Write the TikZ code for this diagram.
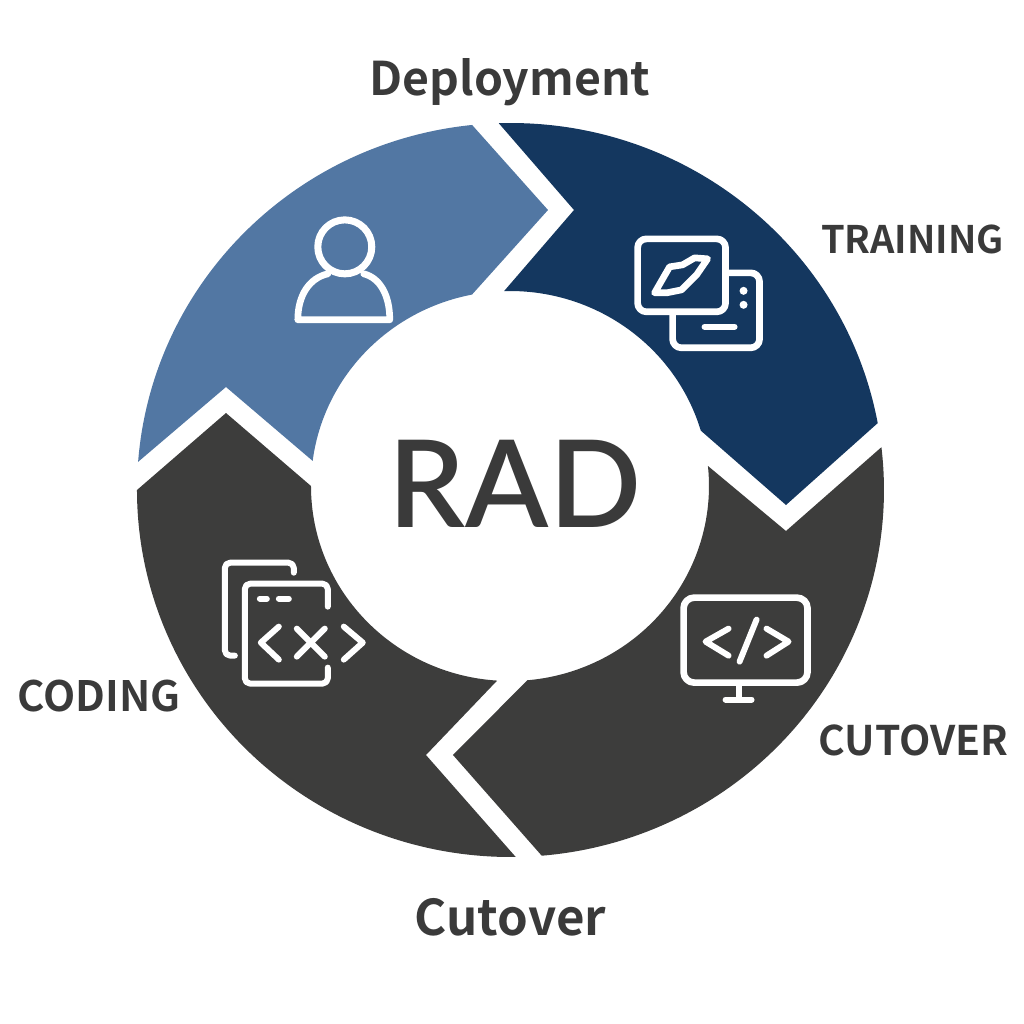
\documentclass[tikz,border=0pt]{standalone}
\usepackage{fontspec}
\setmainfont{Noto Sans}
\newfontfamily\labelfont{Noto Sans CJK SC Bold}
\newfontfamily\bigfont{Lato Semibold}
\usetikzlibrary{calc}
\definecolor{steelblue}{HTML}{5277A3}
\definecolor{navyblue}{HTML}{14375F}
\definecolor{coal}{HTML}{3D3D3C}
\definecolor{inktext}{HTML}{3A3A3A}

\begin{document}
\begin{tikzpicture}

            % Стили для подписей и значков
            \tikzstyle{caption} = [text=inktext, anchor=base, inner sep=0pt, font=\labelfont]
            \tikzstyle{glyph} = [draw=white, line width=1.7pt, line cap=round, line join=round]

            \useasboundingbox (-5.105,-5.34) rectangle (5.135,4.90);

            % Центр внутреннего отверстия
            \coordinate (hole) at (-0.005,0.04);

            % Левый верхний сегмент
            \fill[steelblue] (95.9:3.735 and 3.67) -- (0.375,2.80)
                -- ($(hole)+(101:1.99 and 1.95)$)
                arc[x radius=1.99, y radius=1.95, start angle=101, end angle=172.6]
                -- (-2.845,1.03) -- (175.6:3.735 and 3.67)
                arc[x radius=3.735, y radius=3.67, start angle=175.6, end angle=95.9] -- cycle;

            % Правый верхний сегмент
            \fill[navyblue] (91.8:3.735 and 3.67) -- (0.635,2.80)
                -- ($(hole)+(91.7:1.99 and 1.95)$)
                arc[x radius=1.99, y radius=1.95, start angle=91.7, end angle=16.5]
                -- (2.755,-0.15) -- (10.5:3.735 and 3.67)
                arc[x radius=3.735, y radius=3.67, start angle=10.5, end angle=91.8] -- cycle;

            % Правый нижний сегмент
            \fill[coal] (6.7:3.735 and 3.67) -- (2.755,-0.41)
                -- ($(hole)+(5.9:1.99 and 1.95)$)
                arc[x radius=1.99, y radius=1.95, start angle=5.9, end angle=-85]
                -- (-0.575,-2.65) -- (-85.2:3.735 and 3.67)
                arc[x radius=3.735, y radius=3.67, start angle=-85.2, end angle=6.7] -- cycle;

            % Левый нижний сегмент
            \fill[coal] (180:3.735 and 3.67) -- (-2.845,0.77)
                -- ($(hole)+(180:1.99 and 1.95)$)
                arc[x radius=1.99, y radius=1.95, start angle=180, end angle=266.3]
                -- (-0.845,-2.65) -- (270.8:3.735 and 3.67)
                arc[x radius=3.735, y radius=3.67, start angle=270.8, end angle=180] -- cycle;

            % Подписи
            \node[caption, font=\bigfont\fontsize{34.5}{35}\selectfont] (centre) at (0.045,-0.37) {RAD};
            \node[caption, font=\labelfont\fontsize{13.2}{14}\selectfont] (deploy) at (-0.005,3.95) {Deployment};
            \node[caption, font=\labelfont\fontsize{10.8}{12}\selectfont] (training) at (4.02,2.37) {TRAINING};
            \node[caption, font=\labelfont\fontsize{11.6}{12}\selectfont] (cutoverup) at (4.03,-2.65) {CUTOVER};
            \node[caption, font=\labelfont\fontsize{11.9}{12}\selectfont] (coding) at (-4.115,-2.21) {CODING};
            \node[caption, font=\labelfont\fontsize{14}{14}\selectfont] (cutoverlow) at (0,-4.45) {Cutover};

            % Значки: координаты в пикселях
            \begin{scope}[xshift=-5.105cm, yshift=4.9cm, x=0.01cm, y=-0.01cm]

            % Человек
            \draw[glyph, line width=2pt] (345,247) circle (27);
            \draw[glyph, line width=1.9pt] (328,274) .. controls (310,278) and (298,295) .. (298,320)
                -- (390,320) .. controls (390,295) and (380,278) .. (364,274);

            % Два экрана
            \draw[glyph, line width=1.9pt, rounded corners=2.5pt] (638,239) rectangle (726,312);
            \draw[glyph, line width=1.9pt, rounded corners=2.5pt] (730,273) -- (760,273) -- (760,348) -- (673,348) -- (673,314);
            \draw[glyph, line width=1.9pt] (655,293) -- (670,267) -- (683,265) -- (695,258) -- (708,259)
                -- (697,275) -- (682,290) -- (667,293) -- cycle;
            \fill[white] (744,291) circle (4);
            \fill[white] (744,305) circle (4);
            \draw[glyph] (705,327) -- (735,327);

            % Документы с кодом
            \draw[glyph, rounded corners=1.5pt] (294,573) -- (294,563) -- (225,563) -- (225,656) -- (235,656);
            \draw[glyph, rounded corners=1.5pt] (328,607) -- (328,584) -- (245,584) -- (245,684) -- (328,684) -- (328,668);
            \draw[glyph] (260,599) -- (267,599);
            \draw[glyph] (279,599) -- (289,599);
            \draw[glyph] (279,627) -- (261,643) -- (279,660);
            \draw[glyph] (297,629) -- (325,657);
            \draw[glyph] (325,629) -- (297,657);
            \draw[glyph] (344,627) -- (363,643) -- (344,660);

            % Монитор
            \draw[glyph, line width=1.9pt, rounded corners=3pt] (684,598) rectangle (808,683);
            \draw[glyph] (739,687) -- (739,700);
            \draw[glyph] (726,700) -- (752,700);
            \draw[glyph] (729,629) -- (706,642) -- (729,656);
            \draw[glyph] (757,620) -- (740,662);
            \draw[glyph] (767,629) -- (789,642) -- (767,656);

            \end{scope}

        \end{tikzpicture}
\end{document}
